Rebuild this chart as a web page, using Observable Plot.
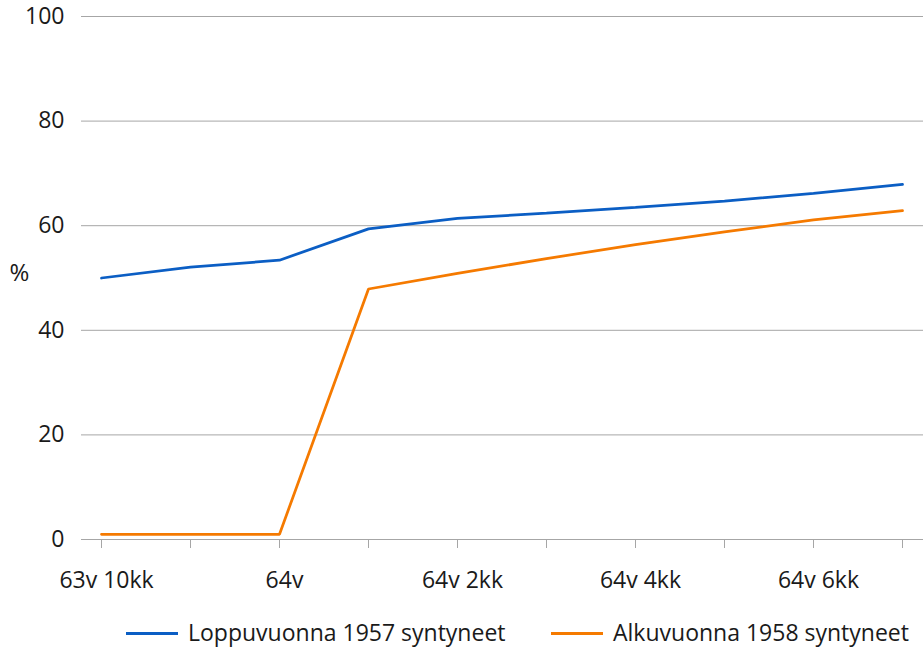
<!DOCTYPE html>
<html>
<head>
<meta charset="utf-8">
<script src="https://cdn.jsdelivr.net/npm/d3@7"></script>
<script src="https://cdn.jsdelivr.net/npm/@observablehq/plot@0.6"></script>
<style>
  html, body { margin: 0; padding: 0; background: #fff; }
  #wrap { width: 923px; height: 650px; position: relative; font-family: 'Open Sans', sans-serif; color: #1a1a1a; }
  #legend { position: absolute; left: 0; top: 600px; width: 923px; height: 50px; font-size: 23px; }
  .sw { position: absolute; height: 3px; top: 32px; }
  .lt { position: absolute; top: 16px; line-height: 32px; white-space: nowrap; }
</style>
</head>
<body>
<div id="wrap"><div id="chart"></div><div id="legend"></div></div>
<script>
const categories = ["63v 10kk","63v 11kk","64v","64v 1kk","64v 2kk","64v 3kk","64v 4kk","64v 5kk","64v 6kk","64v 7kk"];
const tickLabels = ["63v 10kk","64v","64v 2kk","64v 4kk","64v 6kk"];
const seriesNames = ["Loppuvuonna 1957 syntyneet","Alkuvuonna 1958 syntyneet"];
const values1957 = [50.0, 52.1, 53.4, 59.4, 61.4, 62.4, 63.5, 64.7, 66.2, 67.9];
const values1958 = [1.0, 1.0, 1.0, 47.9, 50.9, 53.7, 56.4, 58.8, 61.1, 62.9];
const yTicks = [0, 20, 40, 60, 80, 100];
const yLabel = "%";

const colors = ["#0b5ec4", "#f57a00"];
const data = [
  ...categories.map((c, i) => ({cat: c, series: seriesNames[0], v: values1957[i]})),
  ...categories.map((c, i) => ({cat: c, series: seriesNames[1], v: values1958[i]}))
];

const chart = Plot.plot({
  width: 923,
  height: 600,
  marginLeft: 81,
  marginRight: 0,
  marginTop: 16,
  marginBottom: 61,
  style: {fontFamily: "'Open Sans', sans-serif", fontSize: "23px", color: "#1a1a1a", background: "#fff"},
  x: {type: "point", domain: categories, range: [97, 906], padding: 0, align: 0.5},
  y: {domain: [0, 100]},
  color: {domain: seriesNames, range: colors},
  marks: [
    Plot.gridY(yTicks, {stroke: "#a6a6a6", strokeOpacity: 1, strokeWidth: 1}),
    Plot.ruleY([0], {stroke: "#a6a6a6", strokeWidth: 1}),
    Plot.axisY(yTicks, {tickSize: 0, tickPadding: 17, label: null, fill: "#1a1a1a"}),
    Plot.axisX(categories, {tickSize: 9, stroke: "#a6a6a6", text: null, label: null}),
    Plot.axisX(categories, {tickSize: 0, tickPadding: 32, fill: "#1a1a1a", label: null, dx: 5,
      tickFormat: d => tickLabels.includes(d) ? d : ""}),
    Plot.text([yLabel], {frameAnchor: "left", text: d => d, dx: -62, dy: -5, textAnchor: "middle", fill: "#1a1a1a", fontSize: 24}),
    Plot.line(data, {x: "cat", y: "v", z: "series", stroke: "series", strokeWidth: 2.75, strokeLinejoin: "miter"})
  ]
});
document.getElementById("chart").appendChild(chart);

const legend = document.getElementById("legend");
const legendPos = [{sw: 126, tx: 188}, {sw: 551, tx: 613}];
seriesNames.forEach((name, i) => {
  const s = document.createElement("div");
  s.className = "sw";
  s.style.left = legendPos[i].sw + "px";
  s.style.width = "52px";
  s.style.background = colors[i];
  legend.appendChild(s);
  const t = document.createElement("div");
  t.className = "lt";
  t.style.left = legendPos[i].tx + "px";
  t.textContent = name;
  legend.appendChild(t);
});
</script>
</body>
</html>
